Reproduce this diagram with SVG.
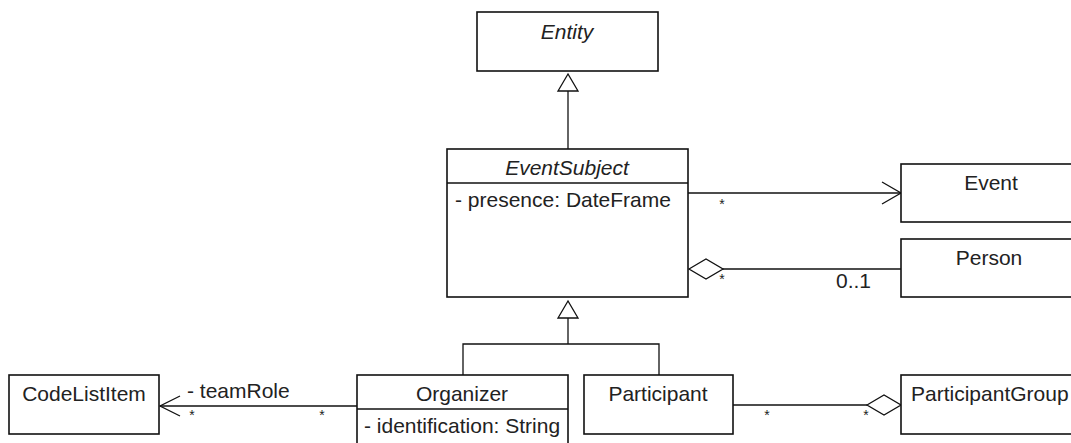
<svg xmlns="http://www.w3.org/2000/svg" width="1071" height="443" viewBox="0 0 1071 443">
<style>
.box{fill:#fff;stroke:#111;stroke-width:1.6}
.ln{fill:none;stroke:#111;stroke-width:1.3}
.hd{fill:#fff;stroke:#111;stroke-width:1.3}
text{font-family:"Liberation Sans",Arial,sans-serif;font-size:21px;fill:#222}
.c{text-anchor:middle}
.i{font-style:italic}
.m{font-size:14px;text-anchor:middle}
</style>
<rect width="1071" height="443" fill="#fff"/>
<g id="connectors">
  <line class="ln" x1="568" y1="91" x2="568" y2="149"/>
  <polygon class="hd" points="568,74 558,91 578,91"/>
  <line class="ln" x1="688" y1="193" x2="901" y2="193"/>
  <polyline class="ln" points="882,182 901,193 882,204"/>
  <text class="m" x="722" y="209">*</text>
  <line class="ln" x1="723" y1="269" x2="901" y2="269"/>
  <polygon class="hd" points="689,269 706,259 723,269 706,279"/>
  <text class="m" x="722" y="284">*</text>
  <text x="836" y="288">0..1</text>
  <line class="ln" x1="568" y1="318" x2="568" y2="344"/>
  <polyline class="ln" points="463,375 463,344 659,344 659,375"/>
  <polygon class="hd" points="568,301 558,318 578,318"/>
  <line class="ln" x1="160" y1="406" x2="357" y2="406"/>
  <polyline class="ln" points="180,396 160,406 180,416"/>
  <text x="187" y="398">- teamRole</text>
  <text class="m" x="192" y="420">*</text>
  <text class="m" x="322" y="420">*</text>
  <line class="ln" x1="733" y1="405" x2="867" y2="405"/>
  <polygon class="hd" points="867,405 884,395 901,405 884,415"/>
  <text class="m" x="767" y="420">*</text>
  <text class="m" x="866" y="420">*</text>
</g>
<g id="Entity">
  <rect class="box" x="477" y="12" width="181" height="59"/>
  <text class="c i" x="567" y="39">Entity</text>
</g>
<g id="EventSubject">
  <rect class="box" x="447" y="149" width="241" height="148"/>
  <line class="ln" x1="447" y1="183" x2="688" y2="183"/>
  <text class="c i" x="567" y="175">EventSubject</text>
  <text x="455" y="207">- presence: DateFrame</text>
</g>
<g id="Event">
  <rect class="box" x="901" y="164" width="180" height="58"/>
  <text class="c" x="991" y="190">Event</text>
</g>
<g id="Person">
  <rect class="box" x="901" y="239" width="180" height="58"/>
  <text class="c" x="989" y="265">Person</text>
</g>
<g id="CodeListItem">
  <rect class="box" x="9" y="375" width="150" height="59"/>
  <text class="c" x="84" y="401">CodeListItem</text>
</g>
<g id="Organizer">
  <rect class="box" x="357" y="375" width="211" height="80"/>
  <line class="ln" x1="357" y1="409" x2="568" y2="409"/>
  <text class="c" x="462" y="401">Organizer</text>
  <text x="364" y="433">- identification: String</text>
</g>
<g id="Participant">
  <rect class="box" x="584" y="375" width="149" height="59"/>
  <text class="c" x="658" y="401">Participant</text>
</g>
<g id="ParticipantGroup">
  <rect class="box" x="901" y="375" width="180" height="59"/>
  <text x="911" y="401">ParticipantGroup</text>
</g>
</svg>
